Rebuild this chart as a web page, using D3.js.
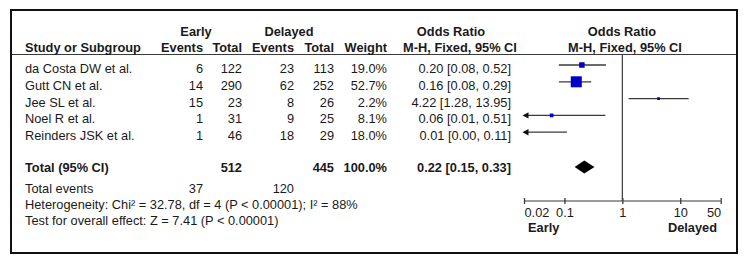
<!DOCTYPE html>
<html><head><meta charset="utf-8">
<script src="https://cdn.jsdelivr.net/npm/d3@7"></script>
<style>
html,body{margin:0;padding:0;background:#fff;}
svg{display:block;}
text{font-family:"Liberation Sans",Arial,sans-serif;font-size:12.8px;fill:#1a1a1a;}
.b{font-weight:bold;}
</style></head>
<body><svg id="c" width="750" height="263"></svg>
<script>
// ---- data ----
const studies = ["da Costa DW et al.", "Gutt CN et al.", "Jee SL et al.", "Noel R et al.", "Reinders JSK et al."];
const earlyEvents = [6, 14, 15, 1, 1];
const earlyTotal = [122, 290, 23, 31, 46];
const delayedEvents = [23, 62, 8, 9, 18];
const delayedTotal = [113, 252, 26, 25, 29];
const weights = [19.0, 52.7, 2.2, 8.1, 18.0];
const orValue = [0.20, 0.16, 4.22, 0.06, 0.01];
const ciLower = [0.08, 0.08, 1.28, 0.01, 0.00];
const ciUpper = [0.52, 0.29, 13.95, 0.51, 0.11];
const totalEarlyN = 512, totalDelayedN = 445, totalWeight = 100.0;
const totalOR = [0.22, 0.15, 0.33];
const totalEarlyEvents = 37, totalDelayedEvents = 120;
const heterogeneity = "Heterogeneity: Chi² = 32.78, df = 4 (P < 0.00001); I² = 88%";
const overallTest = "Test for overall effect: Z = 7.41 (P < 0.00001)";
const tickValues = [0.02, 0.1, 1, 10, 50];
const tickLabels = ["0.02", "0.1", "1", "10", "50"];
const favours = ["Early", "Delayed"];

// ---- drawing ----
const svg = d3.select("#c");
const f2 = d3.format(".2f"), f1 = d3.format(".1f");
const x = d3.scaleLog().domain([0.02, 50]).range([524, 720.7]);
const size = d3.scaleLinear().domain([0, 52.7]).range([2.4, 11]);
const rowBase = i => 73 + i * 16.8;
const ink = "#1a1a1a", lineCol = "#3a3a3a";

svg.append("rect").attr("x", 11).attr("y", 10).attr("width", 726).attr("height", 243)
  .attr("fill", "none").attr("stroke", "#111").attr("stroke-width", 2);
svg.append("line").attr("x1", 12).attr("x2", 736).attr("y1", 54.5).attr("y2", 54.5)
  .attr("stroke", lineCol).attr("stroke-width", 1.2);

function t(txt, xx, yy, anchor, bold) {
  svg.append("text").attr("x", xx).attr("y", yy).attr("text-anchor", anchor || "start")
    .attr("class", bold ? "b" : null).text(txt);
}
// headers
t("Early", 196, 36, "middle", true);
t("Delayed", 289, 36, "middle", true);
t("Odds Ratio", 451, 36, "middle", true);
t("Odds Ratio", 622, 36, "middle", true);
t("Study or Subgroup", 25, 52, "start", true);
t("Events", 203, 52, "end", true);
t("Total", 242, 52, "end", true);
t("Events", 294, 52, "end", true);
t("Total", 334, 52, "end", true);
t("Weight", 387, 52, "end", true);
t("M-H, Fixed, 95% CI", 460, 52, "middle", true);
t("M-H, Fixed, 95% CI", 625, 52, "middle", true);

studies.forEach((s, i) => {
  const y = rowBase(i);
  t(s, 25, y);
  t(earlyEvents[i], 203, y, "end");
  t(earlyTotal[i], 242, y, "end");
  t(delayedEvents[i], 294, y, "end");
  t(delayedTotal[i], 334, y, "end");
  t(f1(weights[i]) + "%", 387, y, "end");
  t(`${f2(orValue[i])} [${f2(ciLower[i])}, ${f2(ciUpper[i])}]`, 511, y, "end");
});

// total rows
const yTot = 172.3;
t("Total (95% CI)", 25, yTot, "start", true);
t(totalEarlyN, 242, yTot, "end", true);
t(totalDelayedN, 334, yTot, "end", true);
t(f1(totalWeight) + "%", 387, yTot, "end", true);
t(`${f2(totalOR[0])} [${f2(totalOR[1])}, ${f2(totalOR[2])}]`, 511, yTot, "end", true);
t("Total events", 25, 192.5);
t(totalEarlyEvents, 203, 192.5, "end");
t(totalDelayedEvents, 294, 192.5, "end");
t(heterogeneity, 25, 208.8);
t(overallTest, 25, 225);

// plot
const [dMin, dMax] = x.domain();
const axisY = 201;
svg.append("line").attr("x1", x(1)).attr("x2", x(1)).attr("y1", 55).attr("y2", axisY)
  .attr("stroke", lineCol).attr("stroke-width", 1.2);

const plot = svg.append("g");
studies.forEach((s, i) => {
  const cy = rowBase(i) - 8;
  const lo = Math.max(ciLower[i], dMin), hi = Math.min(ciUpper[i], dMax);
  plot.append("line").attr("x1", x(lo)).attr("x2", x(hi)).attr("y1", cy).attr("y2", cy)
    .attr("stroke", lineCol).attr("stroke-width", 1.3);
  if (ciLower[i] < dMin) {
    const ax = x(dMin) - 1.5;
    plot.append("path").attr("d", `M${ax},${cy} L${ax + 6},${cy - 3.2} L${ax + 6},${cy + 3.2} Z`).attr("fill", "#111");
  }
  if (ciUpper[i] > dMax) {
    const ax = x(dMax) + 1.5;
    plot.append("path").attr("d", `M${ax},${cy} L${ax - 6},${cy - 3.2} L${ax - 6},${cy + 3.2} Z`).attr("fill", "#111");
  }
  if (orValue[i] >= dMin && orValue[i] <= dMax) {
    const w = size(weights[i]);
    plot.append("rect").attr("x", x(orValue[i]) - w / 2).attr("y", cy - w / 2)
      .attr("width", w).attr("height", w).attr("fill", "#0000c8");
  }
});

// diamond
const dy = yTot - 5.3;
plot.append("path").attr("d",
  `M${x(totalOR[1])},${dy} L${x(totalOR[0])},${dy - 6.5} L${x(totalOR[2])},${dy} L${x(totalOR[0])},${dy + 6.5} Z`)
  .attr("fill", "#000");

// axis
const ax = svg.append("g").attr("transform", `translate(0,${axisY})`)
  .call(d3.axisBottom(x).tickValues(tickValues).tickFormat((d, i) => tickLabels[i]).tickSize(3).tickSizeOuter(0));
ax.select(".domain").attr("stroke", lineCol).attr("stroke-width", 1.2).attr("d", `M${x(dMin)},0H${x(dMax)}`);
ax.selectAll(".tick line").attr("y1", -3).attr("y2", 3).attr("stroke", lineCol).attr("stroke-width", 1.3);
ax.selectAll(".tick text").attr("y", 16).attr("dy", 0)
  .style("font-family", '"Liberation Sans",Arial,sans-serif').style("font-size", "12.8px").attr("fill", ink)
  .attr("text-anchor", (d, i) => i === 0 ? "start" : (i === tickValues.length - 1 ? "end" : "middle"));
t(favours[0], 528, 231.7, "start", true);
t(favours[1], 717, 231.7, "end", true);
</script></body></html>
